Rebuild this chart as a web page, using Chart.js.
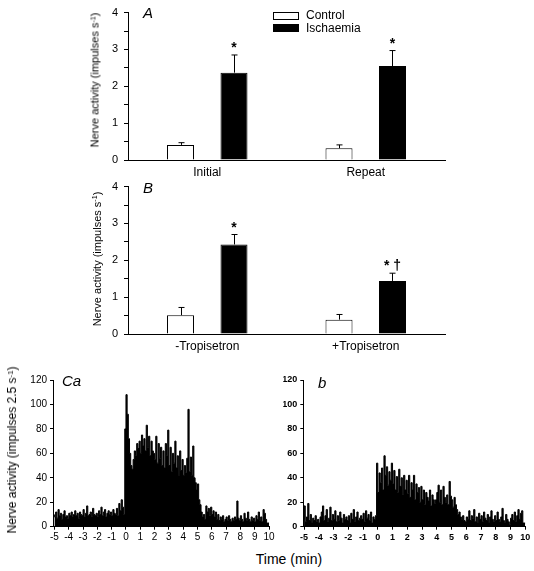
<!DOCTYPE html>
<html><head><meta charset="utf-8">
<script src="https://cdn.jsdelivr.net/npm/chart.js@4"></script>
<style>
body{margin:0;background:#fff;width:534px;height:571px;position:relative;overflow:hidden;font-family:"Liberation Sans",Arial,sans-serif;color:#000}
canvas{position:absolute}
.t{position:absolute;white-space:nowrap;line-height:1;color:#000}
.rot{transform:translate(-50%,-50%) rotate(-90deg)}
sup{font-size:65%;vertical-align:0.45em;line-height:0}
.box{position:absolute;border:1px solid #000;box-sizing:border-box}
</style></head><body>
<canvas id="cA" style="left:0;top:0" width="534" height="182"></canvas>
<canvas id="cB" style="left:0;top:174px" width="534" height="182"></canvas>
<canvas id="cCa" style="left:0;top:370px" width="280" height="180"></canvas>
<canvas id="cCb" style="left:280px;top:370px" width="254" height="180"></canvas>

<div class="t" style="left:143px;top:5px;font-size:15px;font-style:italic">A</div>
<div class="box" style="left:273px;top:12px;width:26px;height:8px;background:#fff"></div>
<div class="t" style="left:306px;top:9px;font-size:12px">Control</div>
<div class="box" style="left:273px;top:24px;width:26px;height:8px;background:#000"></div>
<div class="t" style="left:306px;top:22px;font-size:12px">Ischaemia</div>
<div class="t rot" style="left:95px;top:80px;font-size:11px">Nerve activity (impulses s<sup>-1</sup>)</div>

<div class="t" style="left:143px;top:180px;font-size:15px;font-style:italic">B</div>
<div class="t rot" style="left:97px;top:259px;font-size:11px">Nerve activity (impulses s<sup>-1</sup>)</div>

<div class="t" style="left:62px;top:373px;font-size:15px;font-style:italic">Ca</div>
<div class="t" style="left:318px;top:375px;font-size:15px;font-style:italic">b</div>
<div class="t rot" style="left:12px;top:450px;font-size:12px">Nerve activity (impulses 2.5 s<sup>-1</sup>)</div>
<div class="t" style="left:289px;top:559px;font-size:14px;transform:translate(-50%,-50%)">Time (min)</div>

<script>
// ---------- Panel A ----------
const groupsA = ["Initial", "Repeat"];
const controlA = [0.41, 0.32];
const controlErrA = [0.06, 0.09];
const ischaemiaA = [2.37, 2.55];
const ischaemiaErrA = [0.48, 0.42];
const marksA = ["*", "*"];

// ---------- Panel B ----------
const groupsB = ["-Tropisetron", "+Tropisetron"];
const controlB = [0.51, 0.39];
const controlErrB = [0.21, 0.14];
const ischaemiaB = [2.43, 1.44];
const ischaemiaErrB = [0.27, 0.21];
const marksB = ["*", "* \u2020"];

const barTicks = [0, 0.5, 1, 1.5, 2, 2.5, 3, 3.5, 4];

// ---------- Panel C (impulses per 2.5 s, shown in 5-s bins from -5 to 10 min) ----------
const histStartMin = -5;
const histBinMin = 5 / 60;
const timeTicks = [-5, -4, -3, -2, -1, 0, 1, 2, 3, 4, 5, 6, 7, 8, 9, 10];
const countTicks = [0, 20, 40, 60, 80, 100, 120];

const countsCa = [
  10, 8, 12, 7, 14, 9, 11, 6, 10, 13, 8, 9,
  7, 11, 9, 12, 8, 10, 13, 9, 11, 7, 12, 10,
  9, 14, 8, 11, 17, 9, 10, 12, 8, 15, 10, 9,
  11, 8, 13, 10, 16, 9, 12, 14, 8, 11, 13, 10,
  12, 9, 14, 11, 10, 15, 9, 19, 13, 22, 16, 10,
  80, 108, 92, 72, 60, 50, 47, 55, 62, 58, 68, 64,
  70, 60, 75, 66, 72, 62, 83, 65, 74, 58, 70, 62,
  60, 55, 74, 52, 68, 56, 65, 50, 62, 48, 68, 58,
  79, 50, 65, 45, 60, 52, 70, 48, 58, 42, 62, 46,
  55, 42, 50, 44, 56, 96, 45, 57, 42, 66, 40, 36,
  30, 35, 22, 18, 12, 8, 10, 6, 17, 12, 15, 9,
  16, 10, 13, 8, 12, 6, 10, 5, 8, 6, 9, 4,
  6, 8, 5, 9, 6, 4, 7, 5, 8, 6, 21, 7,
  5, 9, 6, 4, 11, 7, 5, 12, 6, 4, 8, 5,
  7, 4, 9, 6, 12, 5, 8, 4, 14, 11, 6, 3
];
const countsCb = [
  6, 17, 4, 8, 19, 5, 10, 3, 7, 5, 9, 4,
  6, 3, 8, 12, 17, 5, 9, 14, 4, 7, 16, 5,
  10, 6, 13, 4, 9, 5, 12, 7, 3, 10, 6, 8,
  5, 9, 3, 11, 6, 14, 4, 8, 12, 5, 7, 9,
  6, 11, 4, 13, 7, 10, 5, 12, 3, 8, 6, 9,
  52, 28, 44, 36, 48, 30, 58, 42, 49, 34, 45, 38,
  52, 35, 46, 30, 41, 28, 47, 33, 40, 26, 42, 30,
  38, 27, 42, 24, 36, 30, 42, 22, 35, 28, 32, 20,
  33, 22, 30, 18, 28, 24, 21, 30, 17, 26, 22, 19,
  22, 28, 34, 20, 30, 18, 33, 24, 20, 26, 18, 37,
  25, 22, 16, 24, 18, 14, 10, 12, 8, 6, 9, 5,
  4, 8, 6, 13, 5, 9, 7, 14, 4, 8, 3, 11,
  6, 9, 4, 12, 7, 5, 10, 3, 8, 13, 6, 4,
  9, 5, 12, 6, 4, 8, 15, 5, 3, 10, 6, 4,
  2, 7, 10, 5, 12, 4, 9, 14, 6, 11, 13, 3
];

// ---------- plugins ----------
const errorBarPlugin = {
  id: 'errbars',
  afterDatasetsDraw(chart) {
    const ctx = chart.ctx;
    const y = chart.scales.y;
    chart.data.datasets.forEach((ds, di) => {
      if (!ds.errors) return;
      const meta = chart.getDatasetMeta(di);
      meta.data.forEach((bar, i) => {
        const top = ds.data[i] + ds.errors[i];
        const yTop = y.getPixelForValue(top);
        ctx.save();
        ctx.strokeStyle = '#000';
        ctx.lineWidth = 1;
        ctx.beginPath();
        const x = Math.round(bar.x) + 0.5;
        ctx.moveTo(x, bar.y);
        ctx.lineTo(x, yTop);
        ctx.moveTo(x - 3, yTop);
        ctx.lineTo(x + 3, yTop);
        ctx.stroke();
        if (ds.marks && ds.marks[i]) {
          ctx.fillStyle = '#000';
          ctx.font = 'bold 14px "Liberation Sans", Arial, sans-serif';
          ctx.textAlign = 'center';
          ctx.textBaseline = 'alphabetic';
          ctx.fillText(ds.marks[i], bar.x, yTop - 3);
        }
        ctx.restore();
      });
    });
  }
};

const FONT = '"Liberation Sans", Arial, sans-serif';
Chart.defaults.font.family = FONT;
Chart.defaults.color = '#000';

function barChart(id, groups, ctrl, ctrlErr, isch, ischErr, marks) {
  return new Chart(document.getElementById(id), {
    type: 'bar',
    data: {
      labels: groups,
      datasets: [
        { label: 'Control', data: ctrl, errors: ctrlErr, backgroundColor: '#fff', borderColor: '#000', borderWidth: 1,
          categoryPercentage: 0.675, barPercentage: 0.505 },
        { label: 'Ischaemia', data: isch, errors: ischErr, marks: marks, backgroundColor: '#000', borderColor: '#000', borderWidth: 1,
          categoryPercentage: 0.675, barPercentage: 0.505 }
      ]
    },
    options: {
      responsive: false, animation: false, devicePixelRatio: 1,
      layout: { padding: { left: 88, right: 89, top: 7, bottom: 0 } },
      plugins: { legend: { display: false }, tooltip: { enabled: false } },
      scales: {
        x: {
          grid: { display: true, drawOnChartArea: false, drawTicks: false },
          border: { display: true, color: '#000', width: 1 },
          ticks: { color: '#000', font: { size: 12 }, padding: 5 },
          afterFit(s) { s.height = 22; }
        },
        y: {
          min: 0, max: 4,
          afterBuildTicks(s) { s.ticks = barTicks.map(v => ({ value: v })); },
          ticks: { color: '#000', font: { size: 11 }, padding: 6,
            callback: v => Number.isInteger(v) ? String(v) : '' },
          grid: { drawOnChartArea: false, tickLength: 4, color: '#000' },
          border: { color: '#000', width: 1 },
          afterFit(s) { s.width = 40; }
        }
      }
    },
    plugins: [errorBarPlugin]
  });
}

function histChart(id, counts, pad, yWidth, fontSize, weight) {
  const pts = counts.map((v, i) => ({ x: histStartMin + i * histBinMin, y: v }));
  pts.push({ x: histStartMin + counts.length * histBinMin, y: counts[counts.length - 1] });
  return new Chart(document.getElementById(id), {
    type: 'line',
    data: {
      datasets: [{ data: pts, stepped: 'after', fill: 'origin', backgroundColor: '#000', borderColor: '#000',
        borderWidth: 1, pointRadius: 0, tension: 0 }]
    },
    options: {
      responsive: false, animation: false, devicePixelRatio: 1,
      layout: { padding: { left: pad.left, right: pad.right, top: pad.top, bottom: pad.bottom } },
      plugins: { legend: { display: false }, tooltip: { enabled: false } },
      scales: {
        x: {
          type: 'linear', min: pad.xmin, max: 10,
          afterBuildTicks(s) { s.ticks = timeTicks.map(v => ({ value: v })); },
          ticks: { color: '#000', font: { size: fontSize, weight: weight }, padding: 2, maxRotation: 0, autoSkip: false },
          grid: { drawOnChartArea: false, tickLength: 3, color: '#000' },
          border: { color: '#000', width: 1 },
          afterFit(s) { s.height = 23.3; }
        },
        y: {
          min: 0, max: 120,
          afterBuildTicks(s) { s.ticks = countTicks.map(v => ({ value: v })); },
          ticks: { color: '#000', font: { size: fontSize, weight: weight }, padding: 3 },
          grid: { drawOnChartArea: false, tickLength: 3, color: '#000' },
          border: { color: '#000', width: 1 },
          afterFit(s) { s.width = yWidth; }
        }
      }
    }
  });
}

barChart('cA', groupsA, controlA, controlErrA, ischaemiaA, ischaemiaErrA, marksA);
barChart('cB', groupsB, controlB, controlErrB, ischaemiaB, ischaemiaErrB, marksB);
histChart('cCa', countsCa, { left: 23, right: 11, top: 10, bottom: 0, xmin: -5.1 }, 30, 10, 'normal');
histChart('cCb', countsCb, { left: 3.3, right: 8.7, top: 10, bottom: 0, xmin: -5.05 }, 20, 9, 'bold');
</script>
</body></html>
